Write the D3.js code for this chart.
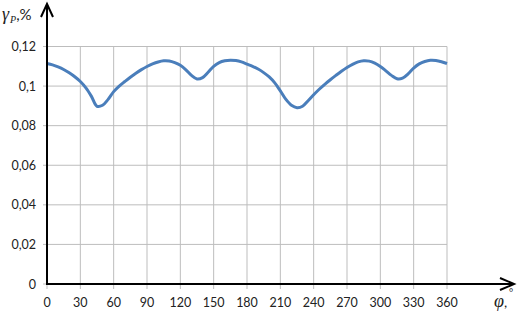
<!DOCTYPE html>
<html><head><meta charset="utf-8">
<script src="https://cdn.jsdelivr.net/npm/d3@7"></script>
<style>body{margin:0;background:#fff}svg{display:block}</style>
</head><body>
<svg id="c" width="517" height="314"></svg>
<script>
const angles = [0,5,10,15,20,25,30,35,40,45,50,55,60,65,70,75,80,85,90,95,100,105,110,115,120,125,130,135,140,145,150,155,160,165,170,175,180,185,190,195,200,205,210,215,220,225,230,235,240,245,250,255,260,265,270,275,280,285,290,295,300,305,310,315,320,325,330,335,340,345,350,355,360];
const gammaP = [0.1114,0.1107,0.1097,0.1084,0.1067,0.1047,0.1023,0.0991,0.0948,0.0898,0.0903,0.0933,0.0972,0.1000,0.1023,0.1045,0.1065,0.1083,0.1099,0.1112,0.1122,0.1128,0.1127,0.1119,0.1105,0.1082,0.1054,0.1036,0.1043,0.1070,0.1100,0.1119,0.1128,0.1131,0.1129,0.1122,0.1111,0.1100,0.1086,0.1068,0.1046,0.1016,0.0976,0.0933,0.0903,0.0891,0.0898,0.0926,0.0956,0.0984,0.1009,0.1032,0.1054,0.1075,0.1094,0.1110,0.1122,0.1128,0.1126,0.1116,0.1099,0.1077,0.1054,0.1037,0.1040,0.1062,0.1091,0.1112,0.1124,0.1130,0.1129,0.1123,0.1114];
const xTicks = [0,30,60,90,120,150,180,210,240,270,300,330,360];
const yTicks = [0,0.02,0.04,0.06,0.08,0.1,0.12];
const yTickLabels = ["0","0,02","0,04","0,06","0,08","0,1","0,12"];

const svg = d3.select("#c");
const x = d3.scaleLinear().domain([0,360]).range([47,447]);
const y = d3.scaleLinear().domain([0,0.12]).range([284,46.5]);
const font = "Lato, 'Open Sans', sans-serif";

// grid
svg.append("g").selectAll("line").data(yTicks.slice(1)).join("line")
  .attr("x1",43).attr("x2",x(360)).attr("y1",d=>y(d)).attr("y2",d=>y(d))
  .attr("stroke","#bdbdbd").attr("stroke-width",1);
svg.append("g").selectAll("line").data(xTicks.slice(1)).join("line")
  .attr("x1",d=>x(d)).attr("x2",d=>x(d)).attr("y1",y(0.12)).attr("y2",289)
  .attr("stroke","#bdbdbd").attr("stroke-width",1);
svg.append("line").attr("x1",43).attr("x2",47).attr("y1",y(0)).attr("y2",y(0)).attr("stroke","#bdbdbd");
svg.append("line").attr("x1",x(0)).attr("x2",x(0)).attr("y1",284).attr("y2",289).attr("stroke","#bdbdbd");

// tick labels
svg.append("g").selectAll("text").data(yTicks).join("text")
  .attr("x",36).attr("y",d=>y(d)+4.5).attr("text-anchor","end")
  .attr("font-family",font).attr("font-size",12.5).attr("fill","#222")
  .text((d,i)=>yTickLabels[i]);
svg.append("g").selectAll("text").data(xTicks).join("text")
  .attr("x",d=>x(d)).attr("y",306.5).attr("text-anchor","middle")
  .attr("font-family",font).attr("font-size",12.5).attr("fill","#222")
  .text(d=>d);

// curve
svg.append("path").datum(angles.map((a,i)=>[a,gammaP[i]]))
  .attr("fill","none").attr("stroke","#4a7ebb").attr("stroke-width",3)
  .attr("stroke-linejoin","round")
  .attr("d", d3.line().x(d=>x(d[0])).y(d=>y(d[1])).curve(d3.curveCatmullRom.alpha(0.5)));

// axes with arrows
svg.append("line").attr("x1",47).attr("x2",47).attr("y1",285).attr("y2",5).attr("stroke","#000").attr("stroke-width",2);
svg.append("path").attr("d","M41,17 L47,4 L53,17").attr("fill","none").attr("stroke","#000").attr("stroke-width",2);
svg.append("line").attr("x1",46).attr("x2",513).attr("y1",284).attr("y2",284).attr("stroke","#000").attr("stroke-width",2);
svg.append("path").attr("d","M500,278 L514,284 L500,290").attr("fill","none").attr("stroke","#000").attr("stroke-width",2);

// axis titles
const yt = svg.append("text").attr("x",2).attr("y",20).attr("font-family","'Times New Roman','Liberation Serif',serif").attr("font-size",18).attr("fill","#222");
yt.append("tspan").attr("font-style","italic").text("γ");
yt.append("tspan").attr("font-style","italic").attr("font-size",10).attr("dy",3).attr("dx",1).text("P");
yt.append("tspan").attr("dy",-3).attr("font-family",font).attr("font-size",15).text(",%");

const xt = svg.append("text").attr("x",494).attr("y",307).attr("font-family","'Times New Roman','Liberation Serif',serif").attr("font-size",18).attr("fill","#222");
xt.append("tspan").attr("font-style","italic").text("φ");
xt.append("tspan").attr("font-family",font).attr("font-size",14).text(",");
svg.append("text").attr("x",509).attr("y",296).attr("font-family",font).attr("font-size",10).attr("fill","#222").text("°");
</script>
</body></html>
